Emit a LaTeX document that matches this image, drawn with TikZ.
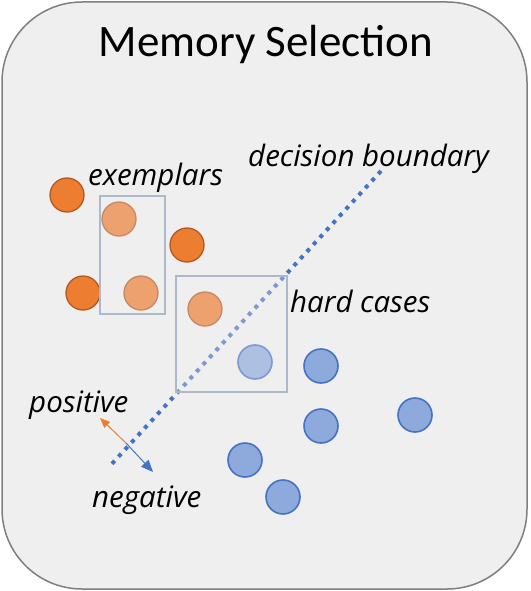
\documentclass[tikz,border=0pt]{standalone}
\usepackage{fontspec}
\setmainfont{Carlito}
\newfontfamily\labelfont{Open Sans}
\usetikzlibrary{arrows.meta}
\definecolor{bgc}{HTML}{EFEFEF}
\definecolor{framec}{HTML}{7F7F7F}
\definecolor{orf}{HTML}{ED7D31}
\definecolor{ord}{HTML}{B05A20}
\definecolor{blf}{HTML}{8EAADC}
\definecolor{bld}{HTML}{4472C4}
\definecolor{boxc}{HTML}{ADB9CA}
\begin{document}
\begin{tikzpicture}[x=1pt,y=-1pt,
  orangedot/.style={circle,minimum size=34pt,inner sep=0pt,fill=orf,draw=ord,line width=1.3pt},
  bluedot/.style={circle,minimum size=34pt,inner sep=0pt,fill=blf,draw=bld,line width=1.6pt},
  selbox/.style={draw=boxc,line width=1.5pt,fill=bgc,fill opacity=0.32},
  lbl/.style={font=\labelfont\fontsize{29.5}{32}\selectfont\itshape,inner sep=0pt,anchor=base west}]
\useasboundingbox (0,0) rectangle (530,591);
\draw[fill=bgc,draw=framec,line width=1.5pt,rounded corners=80pt] (2,2) rectangle (527,589);
\node[font=\fontsize{45}{50}\selectfont,inner sep=0pt,anchor=base] (title) at (266,57) {Memory Selection};
% decision boundary
\coordinate (db1) at (381,171);
\coordinate (db2) at (109,467);
\draw[bld,line width=4pt,dash pattern=on 4pt off 5.6pt] (db1) -- (db2);
% orange points
\node[orangedot] (o1) at (67,195) {};
\node[orangedot] (o2) at (187,245) {};
\node[orangedot] (o3) at (83,293) {};
\node[orangedot] (o4) at (119,219) {};
\node[orangedot] (o5) at (141,293) {};
\node[orangedot] (o6) at (205,309) {};
% blue points
\node[bluedot] (b0) at (255,362) {};
\node[bluedot] (b1) at (321,366) {};
\node[bluedot] (b2) at (321,426) {};
\node[bluedot] (b3) at (415,415) {};
\node[bluedot] (b4) at (245,460) {};
\node[bluedot] (b5) at (283,497) {};
% selection boxes
\draw[selbox] (100,196) rectangle (165,314);
\draw[selbox] (176,276) rectangle (287,392);
% labels
\node[lbl] (ex) at (88,185) {exemplars};
\node[lbl] (dbl) at (248,166) {decision boundary};
\node[lbl] (hc) at (290,312) {hard cases};
\node[lbl] (pos) at (29,412) {positive};
\node[lbl] (neg) at (92,507) {negative};
% direction arrows
\coordinate (cr) at (126,443);
\coordinate (pa) at (100,418);
\coordinate (na) at (153,472);
\draw[orf,line width=1pt,-{Triangle[length=10pt,width=8pt]}] (cr) -- (pa);
\draw[bld,line width=1pt,-{Triangle[length=12pt,width=10pt]}] (cr) -- (na);
\end{tikzpicture}
\end{document}
